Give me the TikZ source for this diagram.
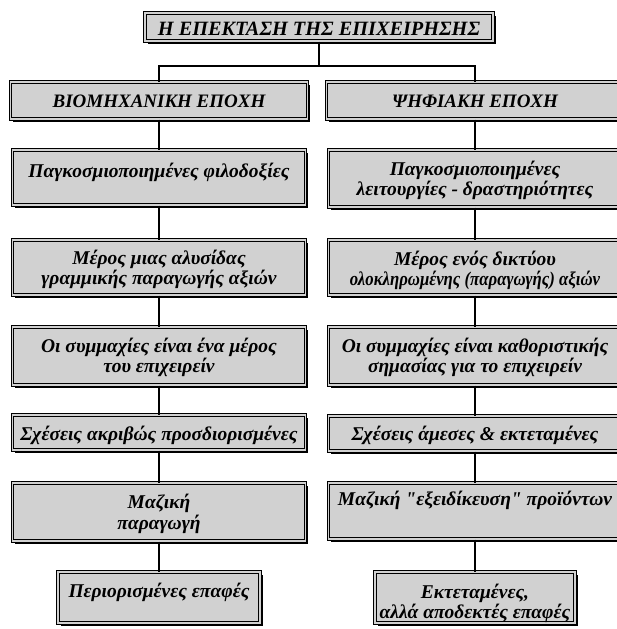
\documentclass[tikz,border=0pt]{standalone}
\usepackage{fontspec}
\usepackage{graphicx}
\setmainfont{Liberation Serif}[Ligatures=TeXOff]
\usetikzlibrary{shadows}
\definecolor{boxfill}{gray}{0.82}
\tikzset{
  x=1pt, y=1pt,
  gbox/.style={draw=black, line width=1pt, double=boxfill, double distance=1.3pt,
    fill=boxfill, inner sep=0pt,
    drop shadow={shadow xshift=2.6pt, shadow yshift=-2.6pt, fill=black, opacity=1}},
  txt/.style={align=center, inner sep=0pt,
    font=\fontsize{19.5pt}{20pt}\selectfont\bfseries\itshape},
  era/.style={align=center, inner sep=0pt,
    font=\fontsize{19pt}{21pt}\selectfont\bfseries\itshape},
  ttl/.style={align=center, inner sep=0pt,
    font=\fontsize{20.3pt}{22pt}\selectfont\bfseries\itshape},
  link/.style={line width=2.2pt, draw=black},
}
\begin{document}
\begin{tikzpicture}
\useasboundingbox (0,0) rectangle (617,-629);

% title
\node[gbox, minimum width=348, minimum height=28] (top) at (319,-27) {};
\node[ttl] (topt) at (319,-29) {Η ΕΠΕΚΤΑΣΗ ΤΗΣ ΕΠΙΧΕΙΡΗΣΗΣ};

% the two eras
\node[gbox, minimum width=297, minimum height=37] (l1) at (159,-100.5) {};
\node[gbox, minimum width=297, minimum height=37] (r1) at (475,-100.5) {};
\node[era] (l1t) at (159,-101) {ΒΙΟΜΗΧΑΝΙΚΗ ΕΠΟΧΗ};
\node[era] (r1t) at (475,-101) {ΨΗΦΙΑΚΗ ΕΠΟΧΗ};

% row 2
\node[gbox, minimum width=293, minimum height=55] (l2) at (159,-177.5) {};
\node[gbox, minimum width=293, minimum height=57] (r2) at (475,-178.5) {};
\node[txt] (l2t) at (159,-172) {Παγκοσμιοποιημένες φιλοδοξίες};
\node[txt] (r2t) at (475,-180) {Παγκοσμιοποιημένες\\λειτουργίες - δραστηριότητες};

% row 3
\node[gbox, minimum width=293, minimum height=55] (l3) at (159,-267.5) {};
\node[gbox, minimum width=293, minimum height=55] (r3) at (475,-267.5) {};
\node[txt] (l3t) at (159,-269) {Μέρος μιας αλυσίδας\\γραμμικής παραγωγής αξιών};
\node[txt] (r3t) at (475,-270) {Μέρος ενός δικτύου\\\scalebox{0.86}[1]{ολοκληρωμένης (παραγωγής) αξιών}};

% row 4
\node[gbox, minimum width=293, minimum height=58] (l4) at (159,-356) {};
\node[gbox, minimum width=293, minimum height=58] (r4) at (475,-356) {};
\node[txt] (l4t) at (159,-357.5) {Οι συμμαχίες είναι ένα μέρος\\του επιχειρείν};
\node[txt] (r4t) at (475,-357) {Οι συμμαχίες είναι καθοριστικής\\σημασίας για το επιχειρείν};

% row 5
\node[gbox, minimum width=293, minimum height=35] (l5) at (159,-432.5) {};
\node[gbox, minimum width=293, minimum height=35] (r5) at (475,-433.5) {};
\node[txt] (l5t) at (159,-435) {Σχέσεις ακριβώς προσδιορισμένες};
\node[txt] (r5t) at (475,-435) {Σχέσεις άμεσες \& εκτεταμένες};

% row 6
\node[gbox, minimum width=293, minimum height=58] (l6) at (159,-512) {};
\node[gbox, minimum width=293, minimum height=56] (r6) at (475,-511) {};
\node[txt] (l6t) at (159,-514) {Μαζική\\[1pt]παραγωγή};
\node[txt] (r6t) at (475,-500) {Μαζική "εξειδίκευση" προϊόντων};

% row 7
\node[gbox, minimum width=202, minimum height=51] (l7) at (159,-597.5) {};
\node[gbox, minimum width=200, minimum height=51] (r7) at (475,-597.5) {};
\node[txt] (l7t) at (159,-592) {Περιορισμένες επαφές};
\node[txt] (r7t) at (475,-603) {Εκτεταμένες,\\αλλά αποδεκτές επαφές};

% connectors
\coordinate (jn) at (319,-66);
\draw[link] (top.south) -- (top.south |- jn);
\draw[link] (l1.north) -- (l1.north |- jn) -- (r1.north |- jn) -- (r1.north);
\foreach \c in {l,r}{
  \draw[link] (\c1.south) -- (\c2.north);
  \draw[link] (\c2.south) -- (\c3.north);
  \draw[link] (\c3.south) -- (\c4.north);
  \draw[link] (\c4.south) -- (\c5.north);
  \draw[link] (\c5.south) -- (\c6.north);
  \draw[link] (\c6.south) -- (\c7.north);
}
\end{tikzpicture}
\end{document}
